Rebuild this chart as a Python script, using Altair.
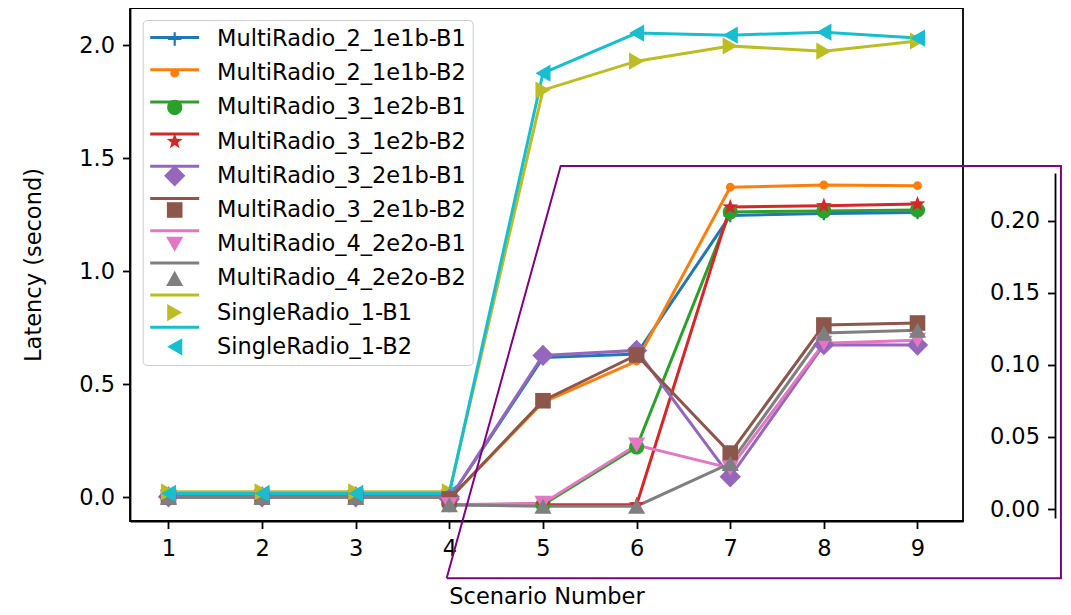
import math
import altair as alt
import pandas as pd

# ---------------- data ----------------
series = [
    "MultiRadio_2_1e1b-B1", "MultiRadio_2_1e1b-B2",
    "MultiRadio_3_1e2b-B1", "MultiRadio_3_1e2b-B2",
    "MultiRadio_3_2e1b-B1", "MultiRadio_3_2e1b-B2",
    "MultiRadio_4_2e2o-B1", "MultiRadio_4_2e2o-B2",
    "SingleRadio_1-B1", "SingleRadio_1-B2",
]
colors = ["#1f77b4", "#ff7f0e", "#2ca02c", "#d62728", "#9467bd",
          "#8c564b", "#e377c2", "#7f7f7f", "#bcbd22", "#17becf"]

# main axes: multi-radio series at scenarios 1-4
main_multi_x = [1, 2, 3, 4]
main_multi_vals = {
    "MultiRadio_2_1e1b-B1": [0.002, 0.002, 0.002, 0.002],
    "MultiRadio_2_1e1b-B2": [0.002, 0.002, 0.002, 0.002],
    "MultiRadio_3_1e2b-B1": [0.002, 0.002, 0.002, 0.002],
    "MultiRadio_3_1e2b-B2": [0.002, 0.002, 0.002, 0.002],
    "MultiRadio_3_2e1b-B1": [0.003, 0.003, 0.003, 0.003],
    "MultiRadio_3_2e1b-B2": [0.002, 0.002, 0.002, 0.002],
    "MultiRadio_4_2e2o-B1": [0.001, 0.001, 0.001, 0.001],
    "MultiRadio_4_2e2o-B2": [0.001, 0.001, 0.001, 0.001],
}
# main axes: single-radio series at scenarios 1-9
single_x = [1, 2, 3, 4, 5, 6, 7, 8, 9]
single_b1 = [0.025, 0.025, 0.025, 0.025, 1.801, 1.929, 1.996, 1.973, 2.018]
single_b2 = [0.018, 0.018, 0.018, 0.018, 1.876, 2.053, 2.044, 2.057, 2.031]

# inset axes: multi-radio series at scenarios 4-9
inset_x = [4, 5, 6, 7, 8, 9]
inset_vals = {
    "MultiRadio_2_1e1b-B1": [0.007, 0.1050, 0.1075, 0.2035, 0.2050, 0.2056],
    "MultiRadio_2_1e1b-B2": [0.007, 0.0740, 0.1026, 0.2231, 0.2247, 0.2242],
    "MultiRadio_3_1e2b-B1": [0.003, 0.0030, 0.0430, 0.2060, 0.2067, 0.2073],
    "MultiRadio_3_1e2b-B2": [0.003, 0.0030, 0.0030, 0.2094, 0.2103, 0.2115],
    "MultiRadio_3_2e1b-B1": [0.007, 0.1065, 0.1100, 0.0224, 0.1140, 0.1137],
    "MultiRadio_3_2e1b-B2": [0.007, 0.0751, 0.1068, 0.0388, 0.1276, 0.1290],
    "MultiRadio_4_2e2o-B1": [0.003, 0.0040, 0.0444, 0.0284, 0.1150, 0.1170],
    "MultiRadio_4_2e2o-B2": [0.003, 0.0020, 0.0020, 0.0317, 0.1220, 0.1240],
}

# inset frame outline (in scenario / inset-latency units)
frame_x = [3.971, 5.189, 10.532, 10.532, 3.971]
frame_y = [-0.0479, 0.2379, 0.2379, -0.0479, -0.0479]

# ---------------- tables ----------------
rows = []
for s, vals in main_multi_vals.items():
    for x, v in zip(main_multi_x, vals):
        rows.append({"scenario": x, "latency": v, "series": s, "series_l": s})
for s, vals in (("SingleRadio_1-B1", single_b1), ("SingleRadio_1-B2", single_b2)):
    for x, v in zip(single_x, vals):
        rows.append({"scenario": x, "latency": v, "series": s, "series_l": s})
main_df = pd.DataFrame(rows)

rows = []
for s, vals in inset_vals.items():
    for x, v in zip(inset_x, vals):
        rows.append({"scenario": x, "latency": v, "series": s, "series_l": s})
inset_df = pd.DataFrame(rows)

frame_df = pd.DataFrame({"scenario": frame_x, "latency": frame_y,
                         "idx": list(range(len(frame_x)))})

# ---------------- marker shapes (unit box) ----------------
def circ(r):
    return f"M{r},0A{r},{r} 0 1,1 {-r},0A{r},{r} 0 1,1 {r},0Z"

def star(ro, ri):
    pts = []
    for k in range(10):
        a = math.radians(-90 + 36 * k)
        r = ro if k % 2 == 0 else ri
        pts.append(f"{r*math.cos(a):.3f},{r*math.sin(a):.3f}")
    return "M" + "L".join(pts) + "Z"

t = 0.085
p = 0.52
plus = (f"M{-p},{-t}H{-t}V{-p}H{t}V{-t}H{p}V{t}H{t}V{p}H{-t}V{t}H{-p}Z")
shapes = [
    plus,
    circ(0.34),
    circ(0.58),
    star(0.64, 0.26),
    "M0,-0.82L0.82,0L0,0.82L-0.82,0Z",
    "M-0.6,-0.6H0.6V0.6H-0.6Z",
    "M0,0.58L0.66,-0.58L-0.66,-0.58Z",
    "M0,-0.58L0.66,0.58L-0.66,0.58Z",
    "M0.58,0L-0.58,-0.66L-0.58,0.66Z",
    "M-0.58,0L0.58,-0.66L0.58,0.66Z",
]

FONT = "DejaVu Sans"
FS = 22.5
ROWPAD = 9.2

marker_legend = alt.Legend(
    title=None, orient="none", legendX=12.7, legendY=12, padding=6,
    labelFont=FONT, labelFontSize=FS, labelColor="black", labelLimit=500,
    symbolSize=676, symbolOpacity=1, symbolStrokeWidth=0,
    symbolOffset=13, labelOffset=29.3, rowPadding=ROWPAD,
    strokeColor="#cccccc", cornerRadius=4,
)
# line handles of the legend (drawn under the markers, no text of its own)
line_legend = alt.Legend(
    title=None, orient="none", legendX=12.7, legendY=12, padding=6,
    labelFont=FONT, labelFontSize=FS, labelExpr="''", labelLimit=500,
    symbolType="M-2.45,0H2.45", symbolSize=400, symbolStrokeWidth=3,
    symbolOffset=14.5, labelOffset=14.5, rowPadding=ROWPAD,
)

x_axis = alt.Axis(values=[1, 2, 3, 4, 5, 6, 7, 8, 9], format="d",
                  title="Scenario Number", labelPadding=9, titlePadding=25)
y_axis = alt.Axis(values=[0, 0.5, 1.0, 1.5, 2.0], format=".1f",
                  title="Latency (second)", labelPadding=8, titlePadding=33)
inset_axis = alt.Axis(values=[0, 0.05, 0.10, 0.15, 0.20], format=".2f",
                      title=None, orient="left", offset=-925, labelPadding=8)

x_enc = alt.X("scenario:Q", scale=alt.Scale(domain=[0.589, 9.486], nice=False, zero=False),
              axis=x_axis)
y_main = alt.Y("latency:Q", scale=alt.Scale(domain=[-0.104, 2.164], nice=False, zero=False),
               axis=y_axis)
y_inset = alt.Y("latency:Q", scale=alt.Scale(domain=[-0.0062, 0.2330], range=[510, 165],
                                              nice=False, zero=False),
                axis=inset_axis)

stroke_enc = alt.Stroke("series_l:N", scale=alt.Scale(range=colors), legend=line_legend)
color_enc = alt.Color("series:N", scale=alt.Scale(domain=series, range=colors),
                      legend=marker_legend)
shape_enc = alt.Shape("series:N", scale=alt.Scale(domain=series, range=shapes),
                      legend=marker_legend)

def lines(df, y):
    return alt.Chart(df).mark_line(strokeWidth=3, clip=False).encode(
        x=x_enc, y=y, stroke=stroke_enc)

def points(df, y):
    return alt.Chart(df).mark_point(filled=True, opacity=1, size=676, strokeWidth=0,
                                    clip=False).encode(
        x=x_enc, y=y, color=color_enc, shape=shape_enc)

frame = alt.Chart(frame_df).mark_line(color="#800080", strokeWidth=2, clip=False).encode(
    x=x_enc, y=y_inset, order="idx:Q")

main = alt.layer(lines(main_df, y_main), points(main_df, y_main))
inset = alt.layer(lines(inset_df, y_inset), points(inset_df, y_inset), frame)

chart = alt.layer(main, inset).resolve_scale(y="independent").properties(
    width=833, height=513,
    autosize=alt.AutoSizeParams(type="none"),
    padding={"left": 122, "top": 0, "right": 100, "bottom": 86},
).configure_view(stroke="black", strokeWidth=1.8).configure_axis(
    labelFont=FONT, labelFontSize=FS, titleFont=FONT, titleFontSize=FS,
    titleFontWeight="normal", labelColor="black", titleColor="black",
    domainColor="black", tickColor="black", domainWidth=1.8, tickWidth=1.8,
    tickSize=7.5, grid=False,
)

chart.save("out.html", embed_options={"renderer": "svg", "actions": False})
